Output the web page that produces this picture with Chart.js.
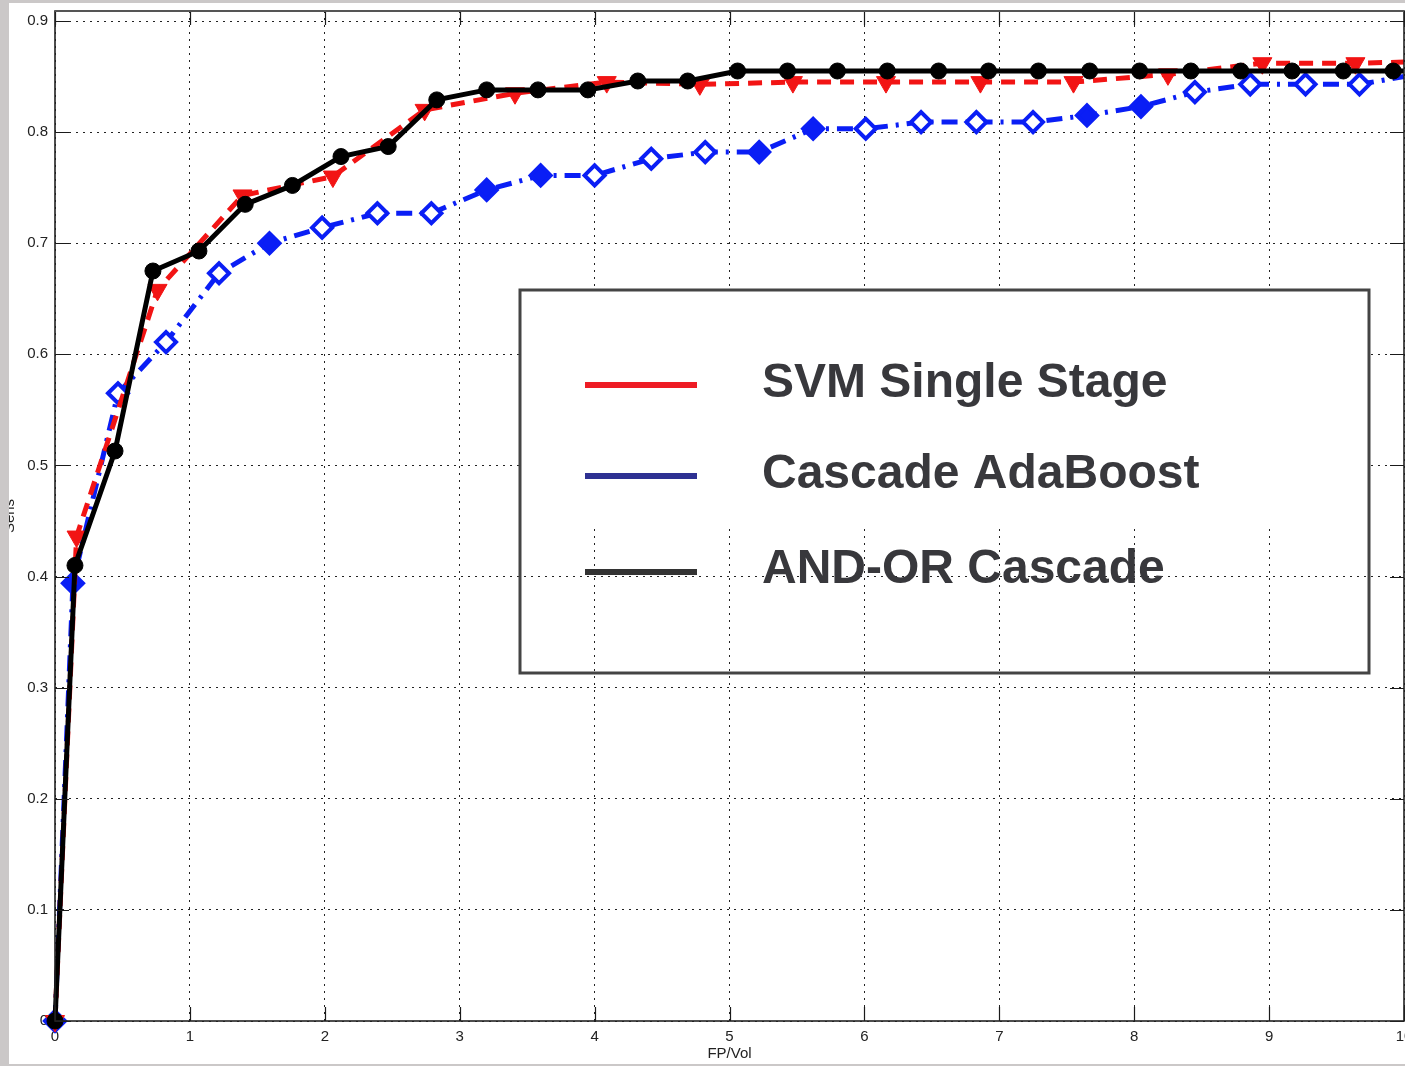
<!DOCTYPE html>
<html>
<head>
<meta charset="utf-8">
<script src="https://cdn.jsdelivr.net/npm/chart.js@4.4.1/dist/chart.umd.min.js"></script>
<style>
  html, body { margin: 0; padding: 0; background: #cbc8c8; width: 1405px; height: 1066px; overflow: hidden; }
  #wrap { position: absolute; left: 9px; top: 3px; width: 1396px; height: 1061px; background: #ffffff; }
  canvas { display: block; }
</style>
</head>
<body>
<div id="wrap"><canvas id="c" width="1396" height="1061"></canvas></div>
<script>
// ---- data ----
const seriesLabels = ['SVM Single Stage', 'Cascade AdaBoost', 'AND-OR Cascade'];

const svmX = [0, 0.16, 0.76, 1.39, 2.06, 2.74, 3.41, 4.09, 4.78, 5.47, 6.16, 6.86, 7.55, 8.25, 8.95, 9.64, 10];
const svmY = [0, 0.436, 0.658, 0.743, 0.760, 0.820, 0.835, 0.845, 0.843, 0.845, 0.845, 0.845, 0.845, 0.852, 0.862, 0.862, 0.863];

const adaX = [0, 0.133, 0.467, 0.823, 1.216, 1.59, 1.98, 2.39, 2.79, 3.20, 3.60, 4.00, 4.42, 4.82, 5.22, 5.62, 6.01, 6.42, 6.83, 7.25, 7.65, 8.05, 8.45, 8.86, 9.27, 9.67, 10];
const adaY = [0, 0.394, 0.565, 0.611, 0.673, 0.700, 0.714, 0.727, 0.727, 0.748, 0.761, 0.761, 0.776, 0.782, 0.782, 0.803, 0.803, 0.809, 0.809, 0.809, 0.815, 0.823, 0.836, 0.843, 0.843, 0.843, 0.850];

const andX = [0, 0.148, 0.445, 0.726, 1.067, 1.41, 1.76, 2.12, 2.47, 2.83, 3.20, 3.58, 3.95, 4.32, 4.69, 5.06, 5.43, 5.80, 6.17, 6.55, 6.92, 7.29, 7.67, 8.04, 8.42, 8.79, 9.17, 9.55, 9.92, 10];
const andY = [0, 0.410, 0.513, 0.675, 0.693, 0.735, 0.752, 0.778, 0.787, 0.829, 0.838, 0.838, 0.838, 0.846, 0.846, 0.855, 0.855, 0.855, 0.855, 0.855, 0.855, 0.855, 0.855, 0.855, 0.855, 0.855, 0.855, 0.855, 0.855, 0.855];

const xTicks = [0, 1, 2, 3, 4, 5, 6, 7, 8, 9, 10];
const yTicks = [0, 0.1, 0.2, 0.3, 0.4, 0.5, 0.6, 0.7, 0.8, 0.9];
const xTitle = 'FP/Vol';
const yTitle = 'Sens';

// ---- build ----
const pts = (xs, ys) => xs.map((x, i) => ({ x: x, y: ys[i] }));
const FONT = "'Liberation Sans', Arial, Helvetica, sans-serif";

// which AdaBoost diamonds render solid (others show a white centre)
const adaSolid = new Set([0, 1, 5, 9, 10, 14, 15, 20, 21]);

const legendColors = ['#ee1c25', '#2e3192', '#333333'];

const matlabPlugin = {
  id: 'matlab',
  afterDraw(chart) {
    const ctx = chart.ctx;
    const a = chart.chartArea;
    const xs = chart.scales.x, ys = chart.scales.y;
    ctx.save();
    // inward ticks
    ctx.strokeStyle = '#1a1a1a';
    ctx.lineWidth = 1.2;
    ctx.beginPath();
    yTicks.forEach(v => {
      const p = Math.round(ys.getPixelForValue(v)) + 0.5;
      ctx.moveTo(a.left, p); ctx.lineTo(a.left + 14, p);
      ctx.moveTo(a.right, p); ctx.lineTo(a.right - 14, p);
    });
    xTicks.forEach(v => {
      const p = Math.round(xs.getPixelForValue(v)) + 0.5;
      ctx.moveTo(p, a.bottom); ctx.lineTo(p, a.bottom - 14);
      ctx.moveTo(p, a.top); ctx.lineTo(p, a.top + 14);
    });
    ctx.stroke();
    // frame
    ctx.lineWidth = 1.6;
    ctx.strokeStyle = '#222222';
    ctx.strokeRect(a.left, a.top, a.right - a.left, a.bottom - a.top);
    ctx.lineWidth = 2;
    ctx.strokeStyle = '#555555';
    ctx.beginPath(); ctx.moveTo(a.left, a.top); ctx.lineTo(a.right, a.top); ctx.stroke();

    // legend box (pasted overlay)
    const L = 511, T = 287, R = 1360, B = 670;
    ctx.fillStyle = '#ffffff';
    ctx.fillRect(L, T, R - L, 238);
    ctx.lineWidth = 3;
    ctx.strokeStyle = '#444444';
    ctx.strokeRect(L, T, R - L, B - T);
    const rows = [382, 473, 569];
    const base = [394, 485, 580];
    ctx.font = "bold 48px " + FONT;
    ctx.textBaseline = 'alphabetic';
    ctx.textAlign = 'left';
    chart.data.datasets.forEach((ds, i) => {
      const di = seriesLabels.indexOf(ds.label);
      ctx.fillStyle = legendColors[di];
      ctx.fillRect(576, rows[di] - 3, 112, 6);
      ctx.fillStyle = '#38383c';
      ctx.fillText(ds.label, 753, base[di]);
    });
    ctx.restore();
  }
};

const chart = new Chart(document.getElementById('c'), {
  type: 'scatter',
  data: {
    datasets: [
      {
        label: seriesLabels[2],
        data: pts(andX, andY),
        showLine: true,
        clip: false,
        order: 0,
        borderColor: '#000000',
        borderWidth: 5,
        pointStyle: 'circle',
        pointRadius: c => (c.raw && c.raw.x >= 10 ? 0 : 8),
        pointBackgroundColor: '#000000',
        pointBorderColor: '#000000',
        pointBorderWidth: 1
      },
      {
        label: seriesLabels[0],
        data: pts(svmX, svmY),
        showLine: true,
        clip: false,
        order: 1,
        borderColor: '#f21414',
        borderWidth: 5,
        borderDash: [14, 9],
        pointStyle: 'triangle',
        rotation: 180,
        pointRadius: c => (c.raw && c.raw.x >= 10 ? 0 : 11),
        pointBackgroundColor: '#f21414',
        pointBorderColor: '#f21414',
        pointBorderWidth: 1
      },
      {
        label: seriesLabels[1],
        data: pts(adaX, adaY),
        showLine: true,
        clip: false,
        order: 2,
        borderColor: '#0a1ef5',
        borderWidth: 5,
        borderDash: [16, 8, 3, 8],
        pointStyle: 'rectRot',
        pointRadius: c => (c.raw && c.raw.x >= 10 ? 0 : 10),
        pointBackgroundColor: c => (adaSolid.has(c.dataIndex) ? '#0a1ef5' : '#ffffff'),
        pointBorderColor: '#0a1ef5',
        pointBorderWidth: 4
      }
    ]
  },
  options: {
    responsive: false,
    animation: false,
    layout: { autoPadding: false, padding: { top: 8, right: 1, left: 0, bottom: 0 } },
    plugins: { legend: { display: false }, tooltip: { enabled: false } },
    scales: {
      x: {
        type: 'linear',
        min: 0, max: 10,
        afterBuildTicks: s => { s.ticks = xTicks.map(v => ({ value: v })); },
        afterFit: s => { s.height = 43; s.paddingLeft = 0; s.paddingRight = 0; },
        ticks: { color: '#222222', font: { family: FONT, size: 15 }, padding: 7, maxRotation: 0, autoSkip: false },
        grid: { color: '#222222', lineWidth: 1, drawTicks: false },
        border: { display: false, dash: [2, 5] },
        title: { display: true, text: xTitle, color: '#222222', font: { family: FONT, size: 15 }, padding: { top: 0, bottom: 1 } }
      },
      y: {
        type: 'linear',
        min: 0, max: 0.909,
        afterBuildTicks: s => { s.ticks = yTicks.map(v => ({ value: v })); },
        afterFit: s => { s.width = 46; s.paddingTop = 0; s.paddingBottom = 0; },
        ticks: {
          color: '#222222', font: { family: FONT, size: 15 }, padding: 7, autoSkip: false,
          callback: v => String(Math.round(v * 10) / 10)
        },
        grid: { color: '#222222', lineWidth: 1, drawTicks: false },
        border: { display: false, dash: [2, 5] },
        title: { display: true, text: yTitle, color: '#222222', font: { family: FONT, size: 15 }, padding: { top: -8, bottom: 0 } }
      }
    }
  },
  plugins: [matlabPlugin]
});
</script>
</body>
</html>
